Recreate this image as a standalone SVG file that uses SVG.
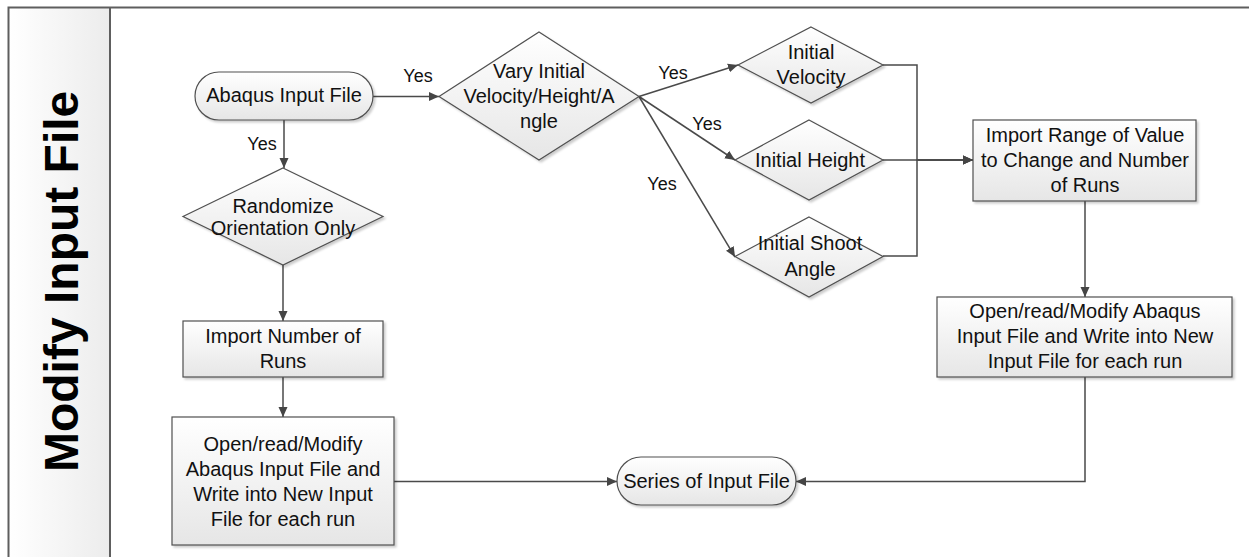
<svg xmlns="http://www.w3.org/2000/svg" width="1249" height="557" viewBox="0 0 1249 557">
  <defs>
    <linearGradient id="nodeFill" x1="0" y1="0" x2="0" y2="1">
      <stop offset="0" stop-color="#ffffff"/>
      <stop offset="1" stop-color="#e6e6e6"/>
    </linearGradient>
    <linearGradient id="laneFill" x1="0" y1="0" x2="1" y2="0">
      <stop offset="0" stop-color="#ffffff"/>
      <stop offset="1" stop-color="#ececec"/>
    </linearGradient>
    <filter id="shadow" x="-10%" y="-10%" width="130%" height="140%">
      <feDropShadow dx="2" dy="2" stdDeviation="1.2" flood-color="#000000" flood-opacity="0.2"/>
    </filter>
    <marker id="arrow" viewBox="0 0 10 10" refX="10" refY="5" markerWidth="10" markerHeight="10" markerUnits="userSpaceOnUse" orient="auto">
      <path d="M0,0.5 L10,5 L0,9.5 Z" fill="#454545"/>
    </marker>
  </defs>
  <style>
    .frame { fill: none; stroke: #5e5e5e; stroke-width: 2; }
    .node { fill: url(#nodeFill); stroke: #505050; stroke-width: 1.2; filter: url(#shadow); }
    .label { font-family: "Liberation Sans", Arial, sans-serif; font-size: 20px; fill: #111111; text-anchor: middle; }
    .yes { font-family: "Liberation Sans", Arial, sans-serif; font-size: 18px; fill: #111111; text-anchor: middle; }
    .title { font-family: "Liberation Sans", Arial, sans-serif; font-size: 48px; font-weight: bold; fill: #000000; }
    .conn { fill: none; stroke: #4a4a4a; stroke-width: 1.5; }
    .conn-arrow { fill: none; stroke: #4a4a4a; stroke-width: 1.5; marker-end: url(#arrow); }
  </style>

  <rect width="1249" height="557" fill="#ffffff"/>

  <!-- swimlane -->
  <g id="lane">
    <rect x="8.5" y="7.5" width="101.5" height="550" fill="url(#laneFill)"/>
    <path class="frame" d="M1249,7.5 H8.5 V557 M110,7.5 V557"/>
    <text class="title" transform="translate(78,472) rotate(-90)">Modify Input File</text>
  </g>

  <!-- connectors -->
  <g id="connectors">
    <path class="conn-arrow" d="M284,120 V168"/>
    <path class="conn-arrow" d="M373,96.5 H439"/>
    <path class="conn-arrow" d="M283,265 V321"/>
    <path class="conn-arrow" d="M283,377 V417"/>
    <path class="conn-arrow" d="M394,481.5 H617"/>
    <path class="conn-arrow" d="M639,96.5 L738,65"/>
    <path class="conn-arrow" d="M639,96.5 L735,160"/>
    <path class="conn-arrow" d="M639,96.5 L735,257"/>
    <path class="conn-arrow" d="M883,65 H917 V160 H973"/>
    <path class="conn-arrow" d="M883,160 H973"/>
    <path class="conn-arrow" d="M883,256 H917 V160 H973"/>
    <path class="conn-arrow" d="M1085,201 V297"/>
    <path class="conn-arrow" d="M1085,377 V481.5 H796"/>
    <text class="yes" x="262" y="150">Yes</text>
    <text class="yes" x="418" y="82">Yes</text>
    <text class="yes" x="673" y="79">Yes</text>
    <text class="yes" x="707" y="130">Yes</text>
    <text class="yes" x="662" y="190">Yes</text>
  </g>

  <!-- nodes -->
  <g id="abaqus-input">
    <rect class="node" x="195" y="72" width="178" height="48" rx="24" ry="24"/>
    <text class="label" x="284" y="102">Abaqus Input File</text>
  </g>

  <g id="randomize">
    <polygon class="node" points="283,168 383,216.5 283,265 183,216.5"/>
    <text class="label" x="283" y="213">Randomize</text>
    <text class="label" x="283" y="235">Orientation Only</text>
  </g>

  <g id="import-runs">
    <rect class="node" x="183" y="321" width="200" height="56"/>
    <text class="label" x="283" y="343">Import Number of</text>
    <text class="label" x="283" y="368">Runs</text>
  </g>

  <g id="modify-left">
    <rect class="node" x="172" y="417" width="222" height="128"/>
    <text class="label" x="283" y="451">Open/read/Modify</text>
    <text class="label" x="283" y="476">Abaqus Input File and</text>
    <text class="label" x="283" y="501">Write into New Input</text>
    <text class="label" x="283" y="526">File for each run</text>
  </g>

  <g id="vary">
    <polygon class="node" points="539,32 639,96.5 539,160 439,96.5"/>
    <text class="label" x="539" y="78">Vary Initial</text>
    <text class="label" x="539" y="103">Velocity/Height/A</text>
    <text class="label" x="539" y="128">ngle</text>
  </g>

  <g id="initial-velocity">
    <polygon class="node" points="811,27 883,65 811,103 738,65"/>
    <text class="label" x="811" y="59">Initial</text>
    <text class="label" x="811" y="84">Velocity</text>
  </g>

  <g id="initial-height">
    <polygon class="node" points="809,120 883,160 809,200 735,160"/>
    <text class="label" x="810" y="167">Initial Height</text>
  </g>

  <g id="initial-angle">
    <polygon class="node" points="809,217 883,256.5 809,297 735,256.5"/>
    <text class="label" x="810" y="250">Initial Shoot</text>
    <text class="label" x="810" y="276">Angle</text>
  </g>

  <g id="import-range">
    <rect class="node" x="973" y="120" width="223" height="81"/>
    <text class="label" x="1085" y="142">Import Range of Value</text>
    <text class="label" x="1085" y="167">to Change and Number</text>
    <text class="label" x="1085" y="192">of Runs</text>
  </g>

  <g id="modify-right">
    <rect class="node" x="937" y="297" width="295" height="80"/>
    <text class="label" x="1085" y="318">Open/read/Modify Abaqus</text>
    <text class="label" x="1085" y="343">Input File and Write into New</text>
    <text class="label" x="1085" y="368">Input File for each run</text>
  </g>

  <g id="series">
    <rect class="node" x="617" y="457" width="179" height="48" rx="24" ry="24"/>
    <text class="label" x="706.5" y="488">Series of Input File</text>
  </g>
</svg>
